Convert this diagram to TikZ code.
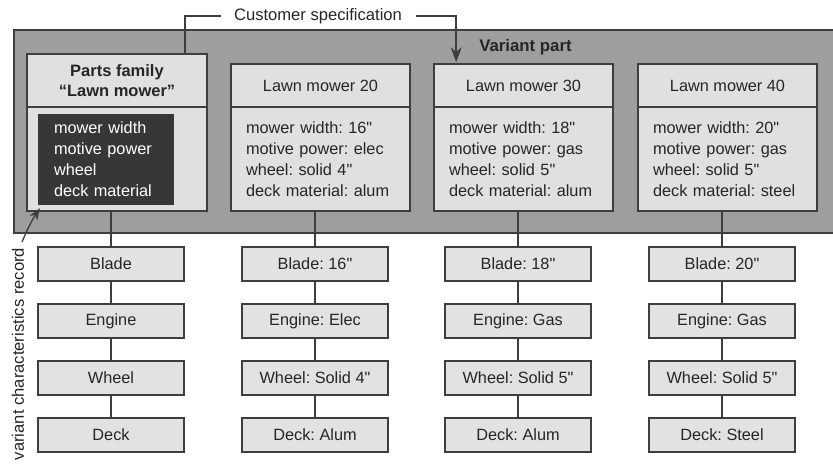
\documentclass[tikz,border=0pt]{standalone}
\usepackage{fontspec}
\setmainfont{Liberation Sans}[Ligatures=TeXOff]
\usetikzlibrary{arrows.meta}
\definecolor{edgec}{RGB}{62,62,62}
\definecolor{regionc}{RGB}{158,158,158}
\definecolor{boxc}{RGB}{224,224,224}
\definecolor{partc}{RGB}{226,226,226}
\definecolor{darkc}{RGB}{55,55,55}
\frenchspacing
\begin{document}
\begin{tikzpicture}[x=1pt,y=-1pt,
  font=\fontsize{16.3}{21}\selectfont,
  every node/.style={text=black!85},
  region/.style={draw=edgec, line width=1.5pt, fill=regionc, inner sep=0pt},
  headbox/.style={draw=edgec, line width=1.6pt, fill=boxc, inner sep=0pt, minimum width=179pt, align=center},
  bodybox/.style={draw=edgec, line width=1.6pt, fill=boxc, inner xsep=15pt, inner ysep=0pt, text width=149pt, minimum height=104pt, align=left},
  darkbox/.style={fill=darkc, text=white, inner xsep=16pt, inner ysep=0pt, text width=104pt, minimum height=91pt, align=left},
  partbox/.style={draw=edgec, line width=1.6pt, fill=partc, minimum width=146pt, minimum height=34pt, inner sep=0pt},
  conn/.style={draw=edgec, line width=1.6pt},
]
\useasboundingbox (0,0) rectangle (833,464);

% variant part region
\node[region, minimum width=830pt, minimum height=203pt] (vp) at (429,131.5) {};
\node[font=\fontsize{16.8}{21}\selectfont\bfseries] (vptxt) at (525.5,47.5) {Variant part};

% parts family
\node[headbox, minimum width=180pt, minimum height=53pt, font=\fontsize{16.5}{20}\selectfont\bfseries] (pfh) at (117,80.5) {Parts family\\“Lawn mower”};
\node[bodybox, text width=150pt, minimum height=104pt] (pfb) at (117,159) {};
\node[darkbox] (dark) at (106,159.5) {mower width\\motive power\\wheel\\deck material};

% lawn mower headers and bodies
\node[headbox, minimum height=43pt] (h20) at (320.5,85.5) {Lawn mower 20};
\node[bodybox] (b20) at (320.5,159) {mower width: 16"\\motive power: elec\\wheel: solid 4"\\deck material: alum};
\node[headbox, minimum height=43pt] (h30) at (523.5,85.5) {Lawn mower 30};
\node[bodybox] (b30) at (523.5,159) {mower width: 18"\\motive power: gas\\wheel: solid 5"\\deck material: alum};
\node[headbox, minimum height=43pt] (h40) at (727.5,85.5) {Lawn mower 40};
\node[bodybox] (b40) at (727.5,159) {mower width: 20"\\motive power: gas\\wheel: solid 5"\\deck material: steel};

% customer specification
\node[inner sep=0pt, font=\fontsize{16.6}{20}\selectfont] (cs) at (318,16) {Customer specification};
\draw[conn] ([xshift=-13pt]cs.west) -| ([xshift=-23pt]pfh.north east);
\draw[conn, -{Stealth[length=15pt,width=11pt]}] ([xshift=14pt]cs.east) -| ([xshift=23pt,yshift=1pt]h30.north west);

% variant characteristics record
\node[rotate=90, inner sep=0pt, font=\fontsize{16.6}{20}\selectfont] (vcr) at (18,354) {variant characteristics record};
\coordinate (vcrtop) at (22,242);
\draw[conn, line width=1.3pt, -{Stealth[length=12pt,width=9pt]}] (vcrtop) to[bend left=5] ([xshift=2pt,yshift=-3pt]dark.south west);

% part boxes
\foreach \c/\x/\bl/\en/\wh/\de in {
  1/111/Blade/Engine/Wheel/Deck,
  2/315/Blade: 16"/Engine: Elec/Wheel: Solid 4"/Deck: Alum,
  3/518/Blade: 18"/Engine: Gas/Wheel: Solid 5"/Deck: Alum,
  4/722/Blade: 20"/Engine: Gas/Wheel: Solid 5"/Deck: Steel}{
  \node[partbox] (bl\c) at (\x,264) {\bl};
  \node[partbox] (en\c) at (\x,321) {\en};
  \node[partbox] (wh\c) at (\x,378) {\wh};
  \node[partbox] (de\c) at (\x,435) {\de};
  \draw[conn] (bl\c.south) -- (en\c.north);
  \draw[conn] (en\c.south) -- (wh\c.north);
  \draw[conn] (wh\c.south) -- (de\c.north);
}
\draw[conn] (bl1.north) -- (bl1.north |- pfb.south);
\draw[conn] (bl2.north) -- (bl2.north |- b20.south);
\draw[conn] (bl3.north) -- (bl3.north |- b30.south);
\draw[conn] (bl4.north) -- (bl4.north |- b40.south);
\end{tikzpicture}
\end{document}
